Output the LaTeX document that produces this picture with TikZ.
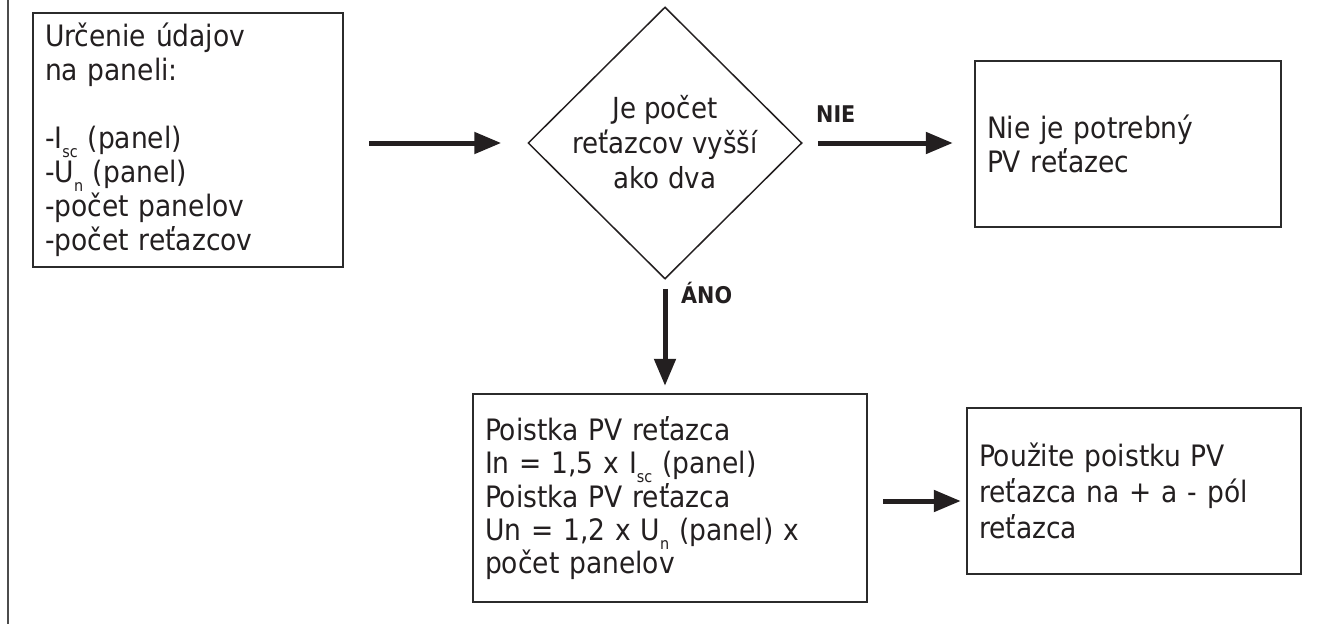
\documentclass[tikz,border=0pt]{standalone}
\usepackage{fontspec}
\setmainfont{DejaVu Sans Condensed}
\usetikzlibrary{shapes.geometric,arrows.meta}
\definecolor{ink}{HTML}{231F20}
\definecolor{frame}{HTML}{2B2B2B}
\newcommand\lsub[1]{\raisebox{-9pt}{\fontsize{16}{16}\selectfont #1}}
\tikzset{
  box/.style={draw=frame, line width=2.4pt, rectangle, inner xsep=12pt, inner ysep=0pt,
    align=left, text=ink, font=\fontsize{29.5}{34}\selectfont},
  dec/.style={draw=ink, line width=1.5pt, diamond, inner sep=0pt, minimum width=274pt, minimum height=272pt},
  flow/.style={draw=ink, line width=5pt, -{Triangle[length=27pt,width=21pt]}},
  lab/.style={text=ink, font=\fontsize{23}{26}\selectfont\bfseries, inner sep=0pt}
}
\begin{document}
\begin{tikzpicture}[x=1pt,y=-1pt]
\useasboundingbox (0,0) rectangle (1331,624);
\draw[gray!60!black, line width=2pt] (8,0) -- (8,624);

\node[box, text width=286pt, minimum height=254pt] (b1) at (188,140)
 {Určenie údajov\\na paneli:\\[34pt]-I\lsub{sc} (panel)\\-U\lsub{n} (panel)\\-počet panelov\\-počet reťazcov};

\node[dec] (d) at (665,143) {};
\node[align=center, text=ink, inner sep=0pt, font=\fontsize{29}{35}\selectfont] (dt) at (665,142)
 {Je počet\\reťazcov vyšší\\ako dva};

\node[box, text width=282pt, minimum height=166pt] (b3) at (1128,144)
 {Nie je potrebný\\PV reťazec};

\node[box, text width=370pt, minimum height=208pt, font=\fontsize{29.5}{33}\selectfont] (b4) at (670,498)
 {Poistka PV reťazca\\In = 1,5 x I\lsub{sc} (panel)\\Poistka PV reťazca\\Un = 1,2 x U\lsub{n} (panel) x\\počet panelov};

\node[box, text width=310pt, minimum height=166pt, font=\fontsize{29.5}{36}\selectfont] (b6) at (1134,491)
 {Použite poistku PV\\reťazca na + a - pól\\reťazca};

\node[lab, anchor=base west] (nie) at (816,122) {NIE};
\node[lab, anchor=base west] (ano) at (681,303) {ÁNO};

\draw[flow, shorten <=25pt, shorten >=26pt] (d.west -| b1.east) -- (d.west);
\draw[flow, shorten <=15pt, shorten >=21pt] (d.east) -- (d.east -| b3.west);
\draw[flow, shorten <=9pt, shorten >=7pt] (d.south) -- (d.south |- b4.north);
\draw[flow, shorten <=15pt, shorten >=5pt] ([yshift=-3pt]b4.east) -- ([yshift=-3pt]b4.east -| b6.west);
\end{tikzpicture}
\end{document}
